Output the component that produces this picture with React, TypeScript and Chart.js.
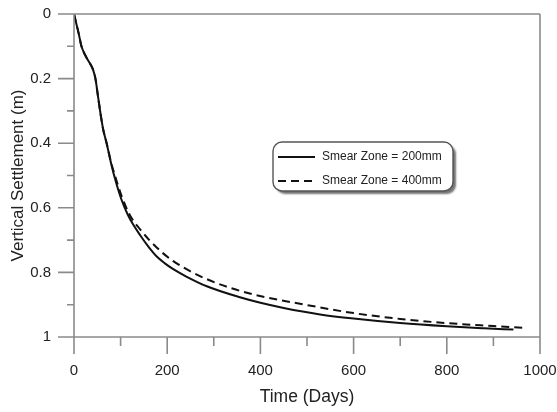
import React, { useEffect, useRef } from "react";
import { Chart, registerables } from "chart.js";

Chart.register(...registerables);

// Time (days) and settlement (m) for smear zone = 200 mm (solid)
const solidTime = [0, 5, 10, 16, 25, 35, 41, 46, 52, 59, 63, 70, 80, 90, 102, 115, 127, 142, 160, 177, 195, 213, 240, 285, 356, 400, 450, 528, 600, 700, 800, 880, 943];
const solidSettle = [0, 0.03, 0.06, 0.1, 0.13, 0.155, 0.173, 0.2, 0.26, 0.328, 0.36, 0.4, 0.465, 0.52, 0.575, 0.62, 0.652, 0.685, 0.721, 0.75, 0.772, 0.79, 0.812, 0.843, 0.877, 0.894, 0.91, 0.93, 0.943, 0.957, 0.967, 0.973, 0.977];

// Time (days) and settlement (m) for smear zone = 400 mm (dashed)
const dashTime = [0, 5, 10, 16, 25, 35, 41, 46, 52, 59, 63, 70, 80, 90, 102, 120, 142, 163, 188, 213, 250, 285, 340, 399, 485, 600, 700, 800, 900, 971];
const dashSettle = [0, 0.03, 0.06, 0.1, 0.13, 0.155, 0.173, 0.2, 0.26, 0.328, 0.36, 0.4, 0.462, 0.51, 0.563, 0.623, 0.667, 0.702, 0.737, 0.765, 0.797, 0.821, 0.85, 0.873, 0.897, 0.926, 0.944, 0.957, 0.966, 0.972];

const seriesLabels = ["Smear Zone = 200mm", "Smear Zone = 400mm"];

const xMajorTicks = [0, 200, 400, 600, 800, 1000];
const xMinorTicks = [100, 300, 500, 700, 900];
const yMajorTicks = [0, 0.2, 0.4, 0.6, 0.8, 1];
const yMinorTicks = [0.1, 0.3, 0.5, 0.7, 0.9];

const xTitle = "Time (Days)";
const yTitle = "Vertical Settlement (m)";

const FONT = "'Liberation Sans', Arial, Helvetica, sans-serif";
const AXIS_COLOR = "#8a8a8a";
const TEXT_COLOR = "#222";

const axesPlugin = {
  id: "axesFrame",
  afterDatasetsDraw(chart: any) {
    const { ctx, chartArea, scales } = chart;
    const { left, right, top, bottom } = chartArea;
    const xs = scales.x;
    const ys = scales.y;
    ctx.save();
    ctx.strokeStyle = AXIS_COLOR;
    ctx.lineWidth = 1.6;
    ctx.beginPath();
    ctx.moveTo(left, top);
    ctx.lineTo(left, bottom);
    ctx.moveTo(left - 16, top);
    ctx.lineTo(right, top);
    ctx.moveTo(left - 16, bottom);
    ctx.lineTo(right, bottom);
    ctx.moveTo(right, top);
    ctx.lineTo(right, bottom);
    yMajorTicks.forEach((v) => {
      const p = ys.getPixelForValue(v);
      ctx.moveTo(left - 16, p);
      ctx.lineTo(left, p);
    });
    yMinorTicks.forEach((v) => {
      const p = ys.getPixelForValue(v);
      ctx.moveTo(left - 7, p);
      ctx.lineTo(left, p);
    });
    xMajorTicks.forEach((v) => {
      const p = xs.getPixelForValue(v);
      ctx.moveTo(p, bottom);
      ctx.lineTo(p, bottom + 17);
    });
    xMinorTicks.forEach((v) => {
      const p = xs.getPixelForValue(v);
      ctx.moveTo(p, bottom);
      ctx.lineTo(p, bottom + 9);
    });
    ctx.stroke();
    ctx.restore();
  },
};

const legendPlugin = {
  id: "boxLegend",
  afterDraw(chart: any) {
    const { ctx } = chart;
    const bx = 273;
    const by = 142;
    const bw = 180;
    const bh = 49;
    const r = 9;
    const roundRect = () => {
      ctx.beginPath();
      ctx.moveTo(bx + r, by);
      ctx.lineTo(bx + bw - r, by);
      ctx.arcTo(bx + bw, by, bx + bw, by + r, r);
      ctx.lineTo(bx + bw, by + bh - r);
      ctx.arcTo(bx + bw, by + bh, bx + bw - r, by + bh, r);
      ctx.lineTo(bx + r, by + bh);
      ctx.arcTo(bx, by + bh, bx, by + bh - r, r);
      ctx.lineTo(bx, by + r);
      ctx.arcTo(bx, by, bx + r, by, r);
      ctx.closePath();
    };
    ctx.save();
    ctx.shadowColor = "rgba(0,0,0,0.55)";
    ctx.shadowOffsetX = 3;
    ctx.shadowOffsetY = 3;
    ctx.shadowBlur = 2;
    roundRect();
    ctx.fillStyle = "#fff";
    ctx.fill();
    ctx.restore();
    ctx.save();
    roundRect();
    ctx.strokeStyle = "#555";
    ctx.lineWidth = 1.4;
    ctx.stroke();
    const rows = [157, 181];
    chart.data.datasets.forEach((ds: any, i: number) => {
      const y = rows[i];
      ctx.beginPath();
      ctx.setLineDash(ds.borderDash || []);
      ctx.strokeStyle = ds.borderColor;
      ctx.lineWidth = 2;
      ctx.moveTo(278, y);
      ctx.lineTo(315, y);
      ctx.stroke();
      ctx.setLineDash([]);
      ctx.fillStyle = TEXT_COLOR;
      ctx.font = `12px ${FONT}`;
      ctx.textAlign = "left";
      ctx.textBaseline = "middle";
      ctx.fillText(ds.label, 322, y);
    });
    ctx.restore();
  },
};

const zeroPad = (s: any) => {
  s.paddingLeft = 0;
  s.paddingRight = 0;
  s.paddingTop = 0;
  s.paddingBottom = 0;
};

export default function App() {
  const canvasRef = useRef<HTMLCanvasElement | null>(null);

  useEffect(() => {
    const canvas = canvasRef.current;
    if (!canvas) return;
    const chart = new Chart(canvas, {
      type: "line",
      data: {
        datasets: [
          {
            label: seriesLabels[0],
            data: solidTime.map((t, i) => ({ x: t, y: solidSettle[i] })),
            borderColor: "#111",
            borderWidth: 2,
            pointRadius: 0,
            fill: false,
            cubicInterpolationMode: "monotone",
          },
          {
            label: seriesLabels[1],
            data: dashTime.map((t, i) => ({ x: t, y: dashSettle[i] })),
            borderColor: "#111",
            borderWidth: 2,
            borderDash: [8, 5],
            pointRadius: 0,
            fill: false,
            cubicInterpolationMode: "monotone",
          },
        ],
      },
      options: {
        animation: false,
        responsive: false,
        devicePixelRatio: 1,
        layout: { autoPadding: false, padding: { left: 0, top: 14, right: 17, bottom: 0 } },
        plugins: { legend: { display: false }, tooltip: { enabled: false } },
        scales: {
          x: {
            type: "linear",
            min: 0,
            max: 1000,
            grid: { display: false, drawTicks: false },
            border: { display: false },
            afterBuildTicks: (s: any) => {
              s.ticks = xMajorTicks.map((v) => ({ value: v }));
            },
            afterFit: (s: any) => {
              s.height = 75;
              zeroPad(s);
            },
            ticks: {
              padding: 25,
              maxRotation: 0,
              autoSkip: false,
              color: TEXT_COLOR,
              font: { family: FONT, size: 15 },
              callback: (v: any) => String(v),
            },
            title: {
              display: true,
              text: xTitle,
              color: TEXT_COLOR,
              font: { family: FONT, size: 17.5 },
              padding: { top: 0, bottom: 4 },
            },
          },
          y: {
            type: "linear",
            min: 0,
            max: 1,
            reverse: true,
            grid: { display: false, drawTicks: false },
            border: { display: false },
            afterBuildTicks: (s: any) => {
              s.ticks = yMajorTicks.map((v) => ({ value: v }));
            },
            afterFit: (s: any) => {
              s.width = 74;
              zeroPad(s);
            },
            ticks: {
              padding: 23,
              autoSkip: false,
              color: TEXT_COLOR,
              font: { family: FONT, size: 15 },
              callback: (v: any) => String(Number(Number(v).toFixed(1))),
            },
            title: {
              display: true,
              text: yTitle,
              color: TEXT_COLOR,
              font: { family: FONT, size: 17 },
              padding: { top: 8, bottom: 0 },
            },
          },
        },
      },
      plugins: [axesPlugin, legendPlugin],
    } as any);
    return () => chart.destroy();
  }, []);

  return (
    <div style={{ position: "fixed", left: 0, top: 0, width: 557, height: 412, background: "#fff" }}>
      <canvas ref={canvasRef} width={557} height={412} style={{ display: "block" }} />
    </div>
  );
}
